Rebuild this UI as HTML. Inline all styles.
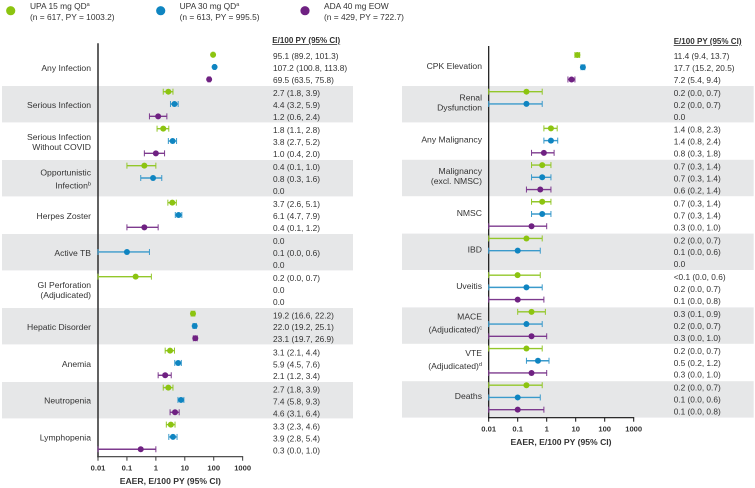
<!DOCTYPE html>
<html>
<head>
<meta charset="utf-8">
<title>Forest plot of exposure-adjusted event rates</title>
<style>
html,body{margin:0;padding:0;background:#fff;}
body{width:755px;height:488px;overflow:hidden;}
svg{display:block;}
text{font-family:"Liberation Sans",sans-serif;fill:#333;}
</style>
</head>
<body>
<svg id="chart" width="755" height="488" viewBox="0 0 755 488" xmlns="http://www.w3.org/2000/svg">
  <g>
    <g>
      <circle cx="10.7" cy="10.7" r="4.6" fill="#8cc410"/>
      <text x="30" y="9" font-size="8.4">UPA 15 mg QD<tspan font-size="5.5" dy="-3">a</tspan></text>
      <text x="30" y="20" font-size="8.4">(n = 617, PY = 1003.2)</text>
    </g>
    <g>
      <circle cx="160.7" cy="10.7" r="4.6" fill="#0f85c1"/>
      <text x="179.6" y="9" font-size="8.4">UPA 30 mg QD<tspan font-size="5.5" dy="-3">a</tspan></text>
      <text x="179.6" y="20" font-size="8.4">(n = 613, PY = 995.5)</text>
    </g>
    <g>
      <circle cx="305" cy="10.7" r="4.6" fill="#6f2182"/>
      <text x="324" y="9" font-size="8.4">ADA 40 mg EOW</text>
      <text x="324" y="20" font-size="8.4">(n = 429, PY = 722.7)</text>
    </g>
  </g>
  <text x="272.3" y="43.2" font-size="8.05" font-weight="bold" text-decoration="underline">E/100 PY (95% CI)</text>
  <text x="673.7" y="44.2" font-size="8.05" font-weight="bold" text-decoration="underline">E/100 PY (95% CI)</text>
  <text x="170.3" y="484" font-size="8.6" font-weight="bold" text-anchor="middle">EAER, E/100 PY (95% CI)</text>
  <text x="561" y="444.8" font-size="8.6" font-weight="bold" text-anchor="middle">EAER, E/100 PY (95% CI)</text>
</svg>
<script>
// ---- Shared axis data ----
const tickValues = [0.01, 0.1, 1, 10, 100, 1000];
const tickLabels = ["0.01", "0.1", "1", "10", "100", "1000"];
const seriesNames = ["upa-15", "upa-30", "ada-40"];
const seriesColors = ["#8cc410", "#0f85c1", "#6f2182"];
const lineColors = ["#93c72a", "#3a9acb", "#7d3a8e"];

// ---- Left panel data ----
const leftCategories = [["Any Infection"],["Serious Infection"],["Serious Infection","Without COVID"],["Opportunistic","Infection"],["Herpes Zoster"],["Active TB"],["GI Perforation","(Adjudicated)"],["Hepatic Disorder"],["Anemia"],["Neutropenia"],["Lymphopenia"]];
const leftSuperscripts = ["","","","b","","","","","","",""];
const leftEst15 = [95.1,2.7,1.8,0.4,3.7,0,0.2,19.2,3.1,2.7,3.3];
const leftLo15  = [89.2,1.8,1.1,0.1,2.6,null,0,16.6,2.1,1.8,2.3];
const leftHi15  = [101.3,3.9,2.8,1.0,5.1,null,0.7,22.2,4.4,3.9,4.6];
const leftEst30 = [107.2,4.4,3.8,0.8,6.1,0.1,0,22.0,5.9,7.4,3.9];
const leftLo30  = [100.8,3.2,2.7,0.3,4.7,0,null,19.2,4.5,5.8,2.8];
const leftHi30  = [113.8,5.9,5.2,1.6,7.9,0.6,null,25.1,7.6,9.3,5.4];
const leftEstAda = [69.5,1.2,1.0,0,0.4,0,0,23.1,2.1,4.6,0.3];
const leftLoAda  = [63.5,0.6,0.4,null,0.1,null,null,19.7,1.2,3.1,0];
const leftHiAda  = [75.8,2.4,2.0,null,1.2,null,null,26.9,3.4,6.4,1.0];

// ---- Right panel data ----
const rightCategories = [["CPK Elevation"],["Renal","Dysfunction"],["Any Malignancy"],["Malignancy","(excl. NMSC)"],["NMSC"],["IBD"],["Uveitis"],["MACE","(Adjudicated)"],["VTE","(Adjudicated)"],["Deaths"]];
const rightSuperscripts = ["","","","","","","","c","d",""];
const rightEst15 = [11.4,0.2,1.4,0.7,0.7,0.2,0.099,0.3,0.2,0.2];
const rightLo15  = [9.4,0,0.8,0.3,0.3,0,0,0.1,0,0];
const rightHi15  = [13.7,0.7,2.3,1.4,1.4,0.7,0.6,0.9,0.7,0.7];
const rightEst30 = [17.7,0.2,1.4,0.7,0.7,0.1,0.2,0.2,0.5,0.1];
const rightLo30  = [15.2,0,0.8,0.3,0.3,0,0,0,0.2,0];
const rightHi30  = [20.5,0.7,2.4,1.4,1.4,0.6,0.7,0.7,1.2,0.6];
const rightEstAda = [7.2,0,0.8,0.6,0.3,0,0.1,0.3,0.3,0.1];
const rightLoAda  = [5.4,null,0.3,0.2,0,null,0,0,0,0];
const rightHiAda  = [9.4,null,1.8,1.4,1.0,null,0.8,1.0,1.0,0.8];

const svg = document.getElementById('chart');
const NS = 'http://www.w3.org/2000/svg';

function make(tag, attrs, parent, text) {
  const el = document.createElementNS(NS, tag);
  for (const k in attrs) el.setAttribute(k, attrs[k]);
  if (text !== undefined) el.textContent = text;
  parent.appendChild(el);
  return el;
}

function printedValue(e, l, h) {
  if (l === null || h === null) return e.toFixed(1);
  const est = (e > 0 && e < 0.1) ? '<0.1' : e.toFixed(1);
  return est + ' (' + l.toFixed(1) + ', ' + h.toFixed(1) + ')';
}

function drawPanel(p) {
  const xScale = v => p.x0 + p.decade * (Math.log10(Math.max(v, 0.01)) + 2);
  const markY = i => p.markTop + p.markPitch * i;
  const textY = (g, j) => p.textTop + p.textPitch * g + 11.95 * j + 3;

  const panel = make('g', {}, svg);
  
  

  // alternating bands
  p.categories.forEach((c, g) => {
    if (g % 2 === 1) {
      const band = make('rect', {x: p.bandX, y: 86 + p.bandPitch * (g - 1), width: p.bandW, height: 36.4, fill: '#e6e7e8'}, panel);
      
      
    }
  });

  // category labels
  p.categories.forEach((lines, g) => {
    const mid = markY(3 * g + 1) + p.labelShift;
    const gap = p.superscripts[g] ? 13 : 10;
    lines.forEach((line, j) => {
      const y = mid + (j - (lines.length - 1) / 2) * gap + 3;
      const t = make('text', {x: p.labelX, y: y, 'font-size': 8.6, 'text-anchor': 'end'}, panel, line);
      
      
      if (j === lines.length - 1 && p.superscripts[g]) {
        make('tspan', {'font-size': 5.6, dy: -3}, t, p.superscripts[g]);
      }
    });
  });

  // axes
  const yAxis = make('line', {x1: p.x0, x2: p.x0, y1: p.axisTop, y2: p.axisBottom + 0.7, stroke: p.axisColor, 'stroke-width': p.axisWidth}, panel);
  
  
  const xAxis = make('line', {x1: p.x0 - 0.7, x2: xScale(1000) + 0.5, y1: p.axisBottom, y2: p.axisBottom, stroke: p.axisColor, 'stroke-width': 1.2}, panel);
  
  
  tickValues.forEach((v, i) => {
    const x = xScale(v);
    const tick = make('line', {x1: x, x2: x, y1: p.axisBottom, y2: p.axisBottom + 4, stroke: p.axisColor, 'stroke-width': 1}, panel);
    
    
    const label = make('text', {x: x, y: p.axisBottom + 13.6, 'font-size': 7.6, 'font-weight': 'bold', 'text-anchor': 'middle'}, panel, tickLabels[i]);
    
    
  });

  // marks and printed values
  p.categories.forEach((c, g) => {
    p.series.forEach((s, j) => {
      const e = s.est[g], l = s.lo[g], h = s.hi[g];
      const y = markY(3 * g + j);
      const value = make('text', {x: p.valueX, y: textY(g, j), 'font-size': 8.3}, panel, printedValue(e, l, h));
      
      
      if (e <= 0) return;
      const mark = make('g', {}, panel);
      
      
      const xl = xScale(l), xh = xScale(h);
      make('line', {x1: xl, x2: xh, y1: y, y2: y, stroke: lineColors[j], 'stroke-width': 1.4}, mark);
      make('line', {x1: xl, x2: xl, y1: y - 3, y2: y + 3, stroke: lineColors[j], 'stroke-width': 1}, mark);
      make('line', {x1: xh, x2: xh, y1: y - 3, y2: y + 3, stroke: lineColors[j], 'stroke-width': 1}, mark);
      make('circle', {cx: xScale(e), cy: y, r: 3, fill: seriesColors[j]}, mark);
    });
  });
}

drawPanel({
  name: 'left', x0: 98, decade: 28.93, markTop: 54.7, markPitch: 12.33,
  textTop: 55.9, textPitch: 37.05, bandX: 2, bandW: 351, bandPitch: 37,
  labelX: 91, labelShift: 0.8, valueX: 273, axisTop: 43.3, axisBottom: 456.7,
  axisColor: '#3a3a3a', axisWidth: 1.6,
  categories: leftCategories, superscripts: leftSuperscripts,
  series: [
    {est: leftEst15, lo: leftLo15, hi: leftHi15},
    {est: leftEst30, lo: leftLo30, hi: leftHi30},
    {est: leftEstAda, lo: leftLoAda, hi: leftHiAda}
  ]
});

drawPanel({
  name: 'right', x0: 488.7, decade: 29, markTop: 55, markPitch: 12.23,
  textTop: 56, textPitch: 36.85, bandX: 402, bandW: 351.7, bandPitch: 36.9,
  labelX: 482, labelShift: -1.2, valueX: 673.7, axisTop: 46, axisBottom: 417.7,
  axisColor: '#111', axisWidth: 1.2,
  categories: rightCategories, superscripts: rightSuperscripts,
  series: [
    {est: rightEst15, lo: rightLo15, hi: rightHi15},
    {est: rightEst30, lo: rightLo30, hi: rightHi30},
    {est: rightEstAda, lo: rightLoAda, hi: rightHiAda}
  ]
});
</script>
</body>
</html>
